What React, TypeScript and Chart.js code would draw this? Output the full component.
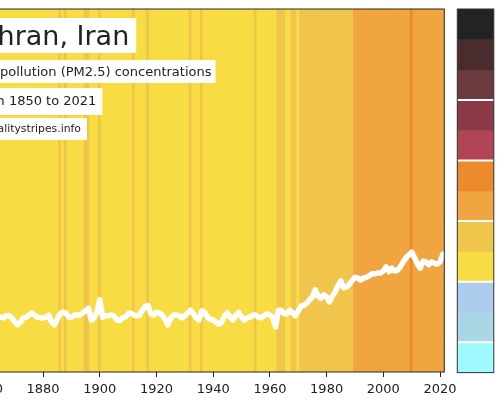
import React, { useEffect, useRef } from 'react';
import { Chart, registerables } from 'chart.js';

Chart.register(...registerables);

// Years covered by the record
const firstYear = 1850;
const lastYear = 2021;
const years: number[] = [];
for (let y = firstYear; y <= lastYear; y++) years.push(y);

// Annual mean PM2.5 (µg/m³), one value per year
const pm25: number[] = [
  // 1850s
  11.6, 11.1, 11.7, 11.3, 11.0, 11.6, 11.9, 11.3, 10.9, 11.4,
  // 1860s
  11.7, 11.1, 11.4, 11.6, 11.3, 11.4, 11.3, 11.6, 11.6, 11.3,
  // 1870s
  10.7, 10.3, 10.7, 11.3, 11.4, 11.7, 12.0, 11.7, 11.4, 11.3,
  // 1880s
  11.3, 11.4, 11.7, 10.7, 10.3, 11.1, 11.9, 12.1, 12.0, 11.4,
  // 1890s
  11.4, 11.7, 11.7, 11.7, 12.0, 12.3, 12.7, 11.0, 11.3, 12.1,
  // 1900s
  13.9, 11.4, 11.6, 11.6, 11.7, 11.6, 11.0, 10.9, 11.3, 11.4,
  // 1910s
  11.9, 12.0, 11.7, 11.6, 11.7, 12.4, 12.9, 13.1, 11.9, 11.7,
  // 1920s
  12.1, 12.0, 11.7, 11.1, 10.3, 11.3, 11.7, 11.7, 11.6, 11.3,
  // 1930s
  11.6, 12.0, 12.4, 11.9, 11.3, 11.0, 12.3, 12.1, 11.4, 11.1,
  // 1940s
  11.0, 10.7, 10.4, 10.7, 11.6, 12.0, 11.4, 11.0, 11.7, 12.1,
  // 1950s
  11.4, 11.0, 11.3, 11.4, 11.7, 11.7, 11.4, 11.3, 11.6, 11.9,
  // 1960s
  11.7, 11.4, 10.0, 12.4, 12.4, 11.9, 11.9, 12.4, 12.0, 11.6,
  // 1970s
  12.3, 13.0, 13.1, 13.4, 13.9, 14.3, 15.3, 14.4, 14.1, 14.6,
  // 1980s
  14.3, 13.6, 14.4, 15.0, 15.9, 16.6, 15.6, 15.7, 16.1, 16.6,
  // 1990s
  17.1, 17.0, 16.7, 17.0, 17.1, 17.3, 17.6, 17.6, 17.7, 17.7,
  // 2000s
  18.0, 18.6, 17.9, 18.4, 18.0, 18.1, 18.6, 19.3, 19.9, 20.3,
  // 2010s
  20.7, 19.9, 19.0, 18.4, 19.4, 19.3, 18.9, 19.3, 19.1, 19.0,
  // 2020s
  19.3, 20.4,
];

// Colour class of each year's stripe (index into the palette)
const stripeLevels: number[] = [
  3, 3, 3, 3, 3, 3, 3, 3, 3, 3, // 1850s
  3, 3, 3, 3, 3, 3, 3, 3, 3, 3, // 1860s
  3, 3, 3, 3, 3, 3, 3, 3, 3, 3, // 1870s
  3, 3, 3, 3, 3, 3, 4, 3, 4, 3, // 1880s
  3, 3, 3, 3, 3, 4, 4, 3, 3, 3, // 1890s
  4, 3, 3, 3, 3, 3, 3, 3, 3, 3, // 1900s
  3, 3, 4, 3, 3, 3, 3, 4, 3, 3, // 1910s
  3, 3, 3, 3, 3, 3, 3, 3, 3, 3, // 1920s
  3, 3, 4, 3, 3, 3, 4, 3, 3, 3, // 1930s
  3, 3, 3, 3, 3, 3, 3, 3, 3, 3, // 1940s
  3, 3, 3, 3, 3, 4, 3, 3, 3, 3, // 1950s
  3, 3, 3, 4, 4, 4, 3, 3, 4, 4, // 1960s
  3, 4, 4, 4, 4, 4, 4, 4, 4, 4, // 1970s
  4, 4, 4, 4, 4, 4, 4, 4, 4, 4, // 1980s
  5, 5, 5, 5, 5, 5, 5, 5, 5, 5, // 1990s
  5, 5, 5, 5, 5, 5, 5, 5, 5, 5, // 2000s
  6, 5, 5, 5, 5, 5, 5, 5, 5, 5, // 2010s
  5, 5,                         // 2020s
];

// Colour classes, lowest concentration first
const palette: string[] = [
  '#9ffaff', '#a9d7e5', '#adcbec', '#f8dc43', '#f0c54b', '#f0a540',
  '#ec8b2c', '#b14555', '#8b3947', '#6a3a3e', '#4a2c2e', '#232323',
];

// Class boundaries marked with a white rule on the colour key
const keyRules: number[] = [1, 3, 5, 7, 9];

const tickYears: number[] = [1860, 1880, 1900, 1920, 1940, 1960, 1980, 2000, 2020];

const titleLines: string[] = [
  'Tehran, Iran',
  'Air pollution (PM2.5) concentrations',
  'from 1850 to 2021',
  'airqualitystripes.info',
];

const yMin = 3.57;
const yMax = 55.43;

const FONT = "'DejaVu Sans', sans-serif";

// Placement of the caption boxes: font size, text offset from the plot's left
// edge, baseline, box top/bottom and box padding
const captionLayout = [
  { size: 27, dx: 12.4, baseline: 45, top: 18, bottom: 53, pad: 7 },
  { size: 13, dx: 21.4, baseline: 76, top: 60, bottom: 83, pad: 4 },
  { size: 13, dx: 17.9, baseline: 105, top: 88, bottom: 115, pad: 6 },
  { size: 10.8, dx: 13.4, baseline: 132, top: 118, bottom: 140, pad: 6 },
];

const overlayPlugin = {
  id: 'stripesOverlay',
  afterDatasetsDraw(chart: any) {
    const { ctx, chartArea: ca } = chart;
    ctx.save();

    // frame around the plot
    ctx.strokeStyle = '#262626';
    ctx.lineWidth = 1;
    ctx.strokeRect(ca.left, ca.top, ca.right - ca.left, ca.bottom - ca.top);

    // caption boxes
    titleLines.forEach((line, i) => {
      const L = captionLayout[i];
      const textX = ca.left + L.dx;
      ctx.font = `${L.size}px ${FONT}`;
      const w = ctx.measureText(line).width;
      ctx.fillStyle = '#ffffff';
      ctx.fillRect(textX - L.pad, L.top, w + 2 * L.pad, L.bottom - L.top);
      ctx.fillStyle = '#222222';
      ctx.textBaseline = 'alphabetic';
      ctx.textAlign = 'left';
      ctx.fillText(line, textX, L.baseline);
    });

    // colour key
    const kx = ca.right + 13;
    const kw = 36.5;
    const top = ca.top;
    const bottom = ca.bottom + 0.6;
    const h = (bottom - top) / palette.length;
    palette.forEach((c, i) => {
      ctx.fillStyle = c;
      ctx.fillRect(kx, bottom - (i + 1) * h, kw, h + 0.5);
    });
    ctx.strokeStyle = '#ffffff';
    ctx.lineWidth = 2;
    keyRules.forEach((k) => {
      const y = bottom - k * h;
      ctx.beginPath();
      ctx.moveTo(kx, y);
      ctx.lineTo(kx + kw, y);
      ctx.stroke();
    });
    ctx.strokeStyle = '#333333';
    ctx.lineWidth = 1;
    ctx.strokeRect(kx, top, kw, bottom - top);

    ctx.restore();
  },
};

export default function App() {
  const canvasRef = useRef<HTMLCanvasElement | null>(null);

  useEffect(() => {
    const canvas = canvasRef.current;
    if (!canvas) return;
    const chart = new Chart(canvas, {
      type: 'bar',
      data: {
        datasets: [
          {
            type: 'line',
            data: years.map((yr, i) => ({ x: yr, y: pm25[i] })),
            borderColor: '#ffffff',
            borderWidth: 5.5,
            borderJoinStyle: 'round',
            borderCapStyle: 'round',
            pointRadius: 0,
            tension: 0,
            order: 0,
            clip: 0,
          } as any,
          {
            type: 'bar',
            data: years.map((yr) => ({ x: yr, y: [yMin, yMax] })),
            backgroundColor: stripeLevels.map((l) => palette[l]),
            borderWidth: 0,
            barPercentage: 1,
            categoryPercentage: 1,
            inflateAmount: 0.5,
            order: 1,
            clip: 0,
          } as any,
        ],
      },
      options: {
        responsive: false,
        animation: false,
        devicePixelRatio: 1,
        events: [],
        layout: { padding: { left: 16.6, right: 55.7, top: 9, bottom: 0 } },
        plugins: { legend: { display: false }, tooltip: { enabled: false } },
        scales: {
          x: {
            type: 'linear',
            offset: false,
            min: firstYear - 0.5,
            max: lastYear + 0.5,
            afterBuildTicks: (s: any) => {
              s.ticks = tickYears.map((v) => ({ value: v }));
            },
            afterFit: (s: any) => {
              s.height = 28;
            },
            grid: { offset: false, drawOnChartArea: false, drawTicks: true, tickLength: 5, color: '#222222', lineWidth: 1 },
            border: { display: false },
            ticks: {
              color: '#222222',
              font: { family: FONT, size: 13 },
              padding: 4.5,
              maxRotation: 0,
              autoSkip: false,
              callback: (v: any) => String(v),
            },
          },
          y: { display: false, min: yMin, max: yMax },
        },
      },
      plugins: [overlayPlugin],
    } as any);
    return () => chart.destroy();
  }, []);

  return (
    <div style={{ position: 'fixed', left: -60, top: 0, width: 560, height: 400, background: '#ffffff' }}>
      <canvas ref={canvasRef} width={560} height={400} style={{ display: 'block' }} />
    </div>
  );
}
